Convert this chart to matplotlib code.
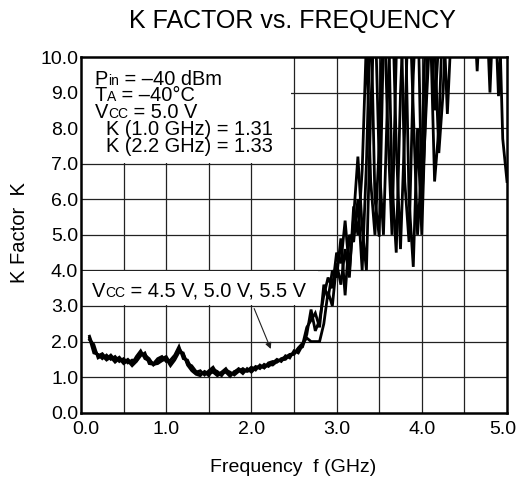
import numpy as np
import matplotlib
matplotlib.use("Agg")
import matplotlib.pyplot as plt
from matplotlib.patches import Rectangle
from matplotlib.ticker import FixedLocator, FormatStrFormatter
from matplotlib.transforms import ScaledTranslation

plt.rcParams['font.family'] = ['Liberation Sans', 'DejaVu Sans']

# ---- data ----
freq_ghz = np.round(np.linspace(0.10, 5.00, 99), 2)

k_vcc_45 = [
    2.15, 1.80, 1.60, 1.66, 1.52, 1.62, 1.48, 1.56, 1.42, 1.50,
    1.38, 1.58, 1.74, 1.52, 1.46, 1.38, 1.52, 1.58, 1.44, 1.48,
    1.62, 1.86, 1.52, 1.48, 1.22, 1.14, 1.18, 1.06, 1.18, 1.28,
    1.08, 1.14, 1.24, 1.06, 1.14, 1.24, 1.16, 1.18, 1.28, 1.20,
    1.34, 1.26, 1.40, 1.44, 1.42, 1.52, 1.56, 1.64, 1.66, 1.80,
    1.85, 2.20, 2.90, 2.30, 2.60, 3.30, 3.80, 3.50, 4.50, 4.20,
    5.40, 4.00, 5.50, 7.20, 5.20, 4.00, 8.50, 11.5, 7.00, 5.00,
    9.00, 12.0, 7.50, 4.60, 8.00, 12.0, 8.50, 5.00, 7.00, 11.5,
    12.0, 8.50, 10.5, 12.0, 11.0, 12.0, 12.0, 12.0, 12.0, 12.0,
    12.0, 12.0, 12.0, 12.0, 12.0, 12.0, 12.0, 7.70, 6.50,
]
k_vcc_50 = [
    2.10, 1.68, 1.64, 1.52, 1.62, 1.50, 1.58, 1.44, 1.52, 1.40,
    1.48, 1.46, 1.66, 1.62, 1.52, 1.34, 1.44, 1.52, 1.58, 1.38,
    1.52, 1.80, 1.64, 1.38, 1.32, 1.16, 1.08, 1.14, 1.04, 1.22,
    1.16, 1.04, 1.20, 1.14, 1.06, 1.16, 1.24, 1.16, 1.20, 1.30,
    1.24, 1.36, 1.30, 1.40, 1.50, 1.44, 1.60, 1.54, 1.74, 1.68,
    1.90, 2.40, 2.60, 2.80, 2.40, 3.60, 3.20, 4.00, 3.80, 4.90,
    3.30, 5.00, 4.80, 6.00, 4.00, 7.00, 11.5, 6.00, 4.95, 10.5,
    12.0, 6.50, 4.50, 9.00, 12.0, 6.00, 4.10, 8.00, 5.00, 9.00,
    12.0, 10.5, 7.30, 9.00, 12.0, 12.0, 12.0, 12.0, 12.0, 12.0,
    12.0, 9.60, 12.0, 12.0, 12.0, 12.0, 8.90, 11.5, 12.0,
]
k_vcc_55 = [
    2.05, 1.92, 1.54, 1.60, 1.48, 1.56, 1.42, 1.52, 1.38, 1.46,
    1.32, 1.44, 1.60, 1.68, 1.38, 1.36, 1.38, 1.46, 1.52, 1.32,
    1.48, 1.70, 1.68, 1.34, 1.18, 1.08, 1.04, 1.16, 1.10, 1.14,
    1.04, 1.10, 1.14, 1.02, 1.16, 1.20, 1.10, 1.24, 1.14, 1.26,
    1.32, 1.26, 1.36, 1.34, 1.44, 1.48, 1.50, 1.62, 1.64, 1.82,
    1.95, 2.10, 2.00, 2.00, 2.00, 2.50, 3.40, 3.00, 4.20, 3.60,
    4.60, 3.80, 5.80, 5.00, 6.80, 10.5, 6.50, 5.00, 7.50, 12.0,
    8.00, 5.00, 10.0, 12.0, 6.50, 4.80, 9.50, 12.0, 5.90, 8.50,
    11.0, 6.50, 8.00, 11.5, 8.40, 11.0, 12.0, 12.0, 12.0, 12.0,
    12.0, 12.0, 12.0, 12.0, 9.00, 12.0, 12.0, 12.0, 12.0,
]
series = [k_vcc_45, k_vcc_50, k_vcc_55]

x_ticks = [0.0, 1.0, 2.0, 3.0, 4.0, 5.0]
y_ticks = [0.0, 1.0, 2.0, 3.0, 4.0, 5.0, 6.0, 7.0, 8.0, 9.0, 10.0]
x_grid = [0.5, 1.0, 1.5, 2.0, 2.5, 3.0, 3.5, 4.0, 4.5]
y_grid = [1.0, 2.0, 3.0, 4.0, 5.0, 6.0, 7.0, 8.0, 9.0]

# ---- figure ----
W, H = 520, 482
fig = plt.figure(figsize=(W / 100, H / 100), dpi=100)
ax = fig.add_axes([81 / W, 1 - 412.7 / H, 426 / W, 355.7 / H])
ax.set_xlim(0, 5)
ax.set_ylim(0, 10)

for gx in x_grid:
    ax.axvline(gx, color='#222222', lw=0.9, zorder=1)
for gy in y_grid:
    ax.axhline(gy, color='#222222', lw=0.9, zorder=1)

# white boxes covering grid behind annotations
ax.add_patch(Rectangle((0, 7.03), 2.47, 3.0, facecolor='white', edgecolor='none', zorder=2))
ax.add_patch(Rectangle((0, 3.03), 2.78, 0.94, facecolor='white', edgecolor='none', zorder=2))

for ks in series:
    ax.plot(freq_ghz, ks, color='black', lw=2.0, zorder=3, solid_joinstyle='miter')

ax.xaxis.set_major_locator(FixedLocator(x_ticks))
ax.yaxis.set_major_locator(FixedLocator(y_ticks))
ax.xaxis.set_major_formatter(FormatStrFormatter('%.1f'))
ax.yaxis.set_major_formatter(FormatStrFormatter('%.1f'))
ax.tick_params(length=0, labelsize=14, colors='black')
ax.tick_params(axis='y', pad=2)
ax.tick_params(axis='x', pad=6)
for s in ax.spines.values():
    s.set_linewidth(1.8)
    s.set_zorder(5)

fig.canvas.draw()
xl = ax.get_xticklabels()
xl[0].set_transform(xl[0].get_transform() + ScaledTranslation(0.045, 0, fig.dpi_scale_trans))
xl[-1].set_transform(xl[-1].get_transform() + ScaledTranslation(-0.04, 0, fig.dpi_scale_trans))

fig.text(292 / W, 1 - 21 / H, 'K FACTOR vs. FREQUENCY', ha='center', va='center', fontsize=18)
fig.text(293 / W, 1 - 467 / H, 'Frequency  f (GHz)', ha='center', va='center', fontsize=14)
fig.text(20 / W, 1 - 233 / H, 'K Factor  K', ha='center', va='center', rotation=90, fontsize=14.5)

renderer = fig.canvas.get_renderer()


def rich(x, y, parts):
    dx, dy = ax.transData.transform((x, y))
    for txt, size in parts:
        t = fig.text(dx / fig.bbox.width, dy / fig.bbox.height, txt,
                     fontsize=size, va='baseline', ha='left')
        bb = t.get_window_extent(renderer)
        dx = bb.x1


fs = 14.4
sub = 10.0
rich(0.16, 9.21, [('P', fs), ('in', sub), (' = \u201340 dBm', fs)])
rich(0.16, 8.75, [('T', fs), ('A', sub), (' = \u201340\u00b0C', fs)])
rich(0.16, 8.28, [('V', fs), ('CC', sub), (' = 5.0 V', fs)])
rich(0.29, 7.81, [('K (1.0 GHz) = 1.31', fs)])
rich(0.29, 7.34, [('K (2.2 GHz) = 1.33', fs)])

rich(0.13, 3.26, [('V', fs), ('CC', sub), (' = 4.5 V, 5.0 V, 5.5 V', fs)])
ax.annotate('', xy=(2.24, 1.72), xytext=(2.02, 3.0),
            arrowprops=dict(arrowstyle='-|>', color='#222222', lw=0.8, mutation_scale=9),
            zorder=4)

fig.savefig('out.png', dpi=100)
